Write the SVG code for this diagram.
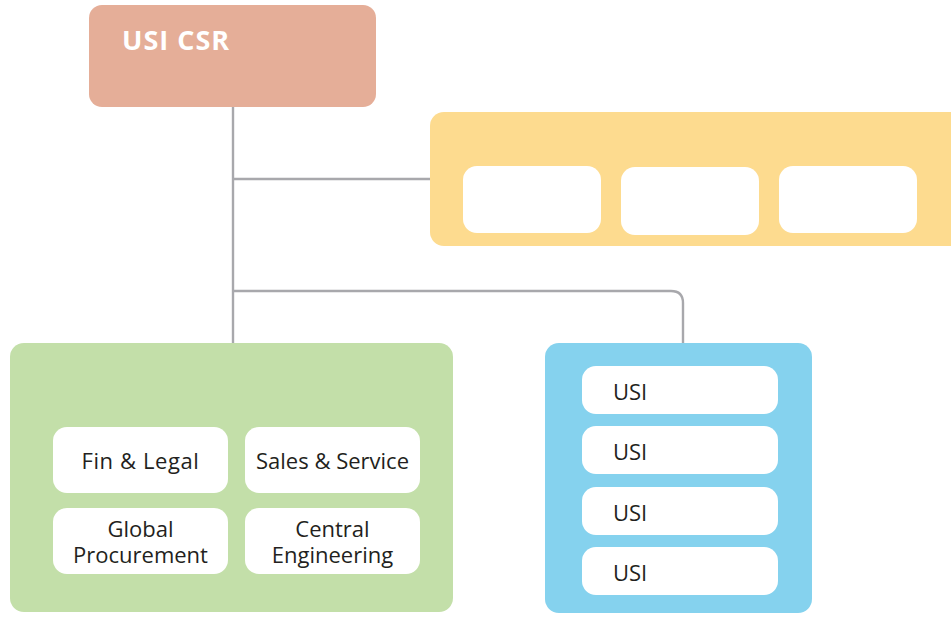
<svg xmlns="http://www.w3.org/2000/svg" width="951" height="623" viewBox="0 0 951 623">
<style>
.inner{fill:#FFFFFF}
.lbl{font-family:"Open Sans","Noto Sans",sans-serif;font-size:22px;fill:#231F20}
.c{text-anchor:middle}
.w{letter-spacing:0.6px}
.conn{fill:none;stroke:#A8A8AC;stroke-width:2.4}
</style>
<rect width="951" height="623" fill="#FFFFFF"/>
<g id="connectors">
<path class="conn" d="M233 107 V343"/>
<path class="conn" d="M233 179 H430"/>
<path class="conn" d="M233 291 H671 Q683 291 683 303 V343"/>
</g>
<g id="usi-csr">
<rect x="89" y="5" width="287" height="102" rx="13" fill="#E5AE98"/>
<text x="122" y="50" font-family="'Open Sans','Noto Sans',sans-serif" font-weight="bold" font-size="27" letter-spacing="1" fill="#FFFFFF">USI CSR</text>
</g>
<g id="yellow-group">
<rect x="430" y="112" width="535" height="134" rx="14" fill="#FDDB8F"/>
<rect class="inner" x="463" y="166" width="138" height="67" rx="14"/>
<rect class="inner" x="621" y="167" width="138" height="68" rx="14"/>
<rect class="inner" x="779" y="166" width="138" height="67" rx="14"/>
</g>
<g id="green-group">
<rect x="10" y="343" width="443" height="269" rx="14" fill="#C3DFA9"/>
<g id="fin-legal">
<rect class="inner" x="53" y="427" width="175" height="66" rx="14"/>
<text class="lbl c w" x="140.5" y="469">Fin &amp; Legal</text>
</g>
<g id="sales-service">
<rect class="inner" x="245" y="427" width="175" height="66" rx="14"/>
<text class="lbl c" x="332.5" y="469">Sales &amp; Service</text>
</g>
<g id="global-procurement">
<rect class="inner" x="53" y="508" width="175" height="66" rx="14"/>
<text class="lbl c" x="140.5" y="537"><tspan x="140.5">Global</tspan><tspan x="140.5" dy="26">Procurement</tspan></text>
</g>
<g id="central-engineering">
<rect class="inner" x="245" y="508" width="175" height="66" rx="14"/>
<text class="lbl c" x="332.5" y="537"><tspan x="332.5">Central</tspan><tspan x="332.5" dy="26">Engineering</tspan></text>
</g>
</g>
<g id="blue-group">
<rect x="545" y="343" width="267" height="270" rx="14" fill="#85D2EE"/>
<g id="usi-1">
<rect class="inner" x="582" y="366" width="196" height="48" rx="14"/>
<text class="lbl" x="613" y="400">USI</text>
</g>
<g id="usi-2">
<rect class="inner" x="582" y="426" width="196" height="48" rx="14"/>
<text class="lbl" x="613" y="460">USI</text>
</g>
<g id="usi-3">
<rect class="inner" x="582" y="487" width="196" height="48" rx="14"/>
<text class="lbl" x="613" y="521">USI</text>
</g>
<g id="usi-4">
<rect class="inner" x="582" y="547" width="196" height="48" rx="14"/>
<text class="lbl" x="613" y="581">USI</text>
</g>
</g>
</svg>
